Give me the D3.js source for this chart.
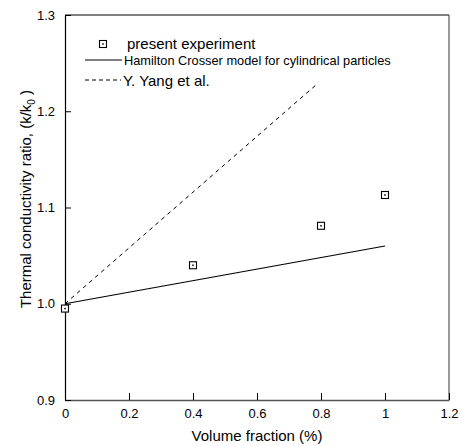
<!DOCTYPE html>
<html>
<head>
<meta charset="utf-8">
<script src="https://cdn.jsdelivr.net/npm/d3@7"></script>
<style>
  body { margin: 0; background: #fff; }
  text { font-family: "Liberation Sans", Arial, sans-serif; fill: #000; }
</style>
</head>
<body>
<script>
// values
var fractions = [0, 0.4, 0.8, 1.0];
var measured = [0.995, 1.04, 1.081, 1.113];

var hcX = [0, 1.0];
var hcY = [1.0, 1.06];

var yangX = [0, 0.79];
var yangY = [1.0, 1.229];

var xTicks = [0, 0.2, 0.4, 0.6, 0.8, 1, 1.2];
var yTicks = [0.9, 1.0, 1.1, 1.2, 1.3];

var W = 464, H = 446;
var plotL = 65, plotR = 449, plotT = 15, plotB = 400;

var x = d3.scaleLinear().domain([0, 1.2]).range([plotL, plotR]);
var y = d3.scaleLinear().domain([0.9, 1.3]).range([plotB, plotT]);

var svg = d3.select('body').append('svg')
    .attr('width', W)
    .attr('height', H);

// frame
svg.append('line').attr('x1', plotL).attr('x2', plotR).attr('y1', plotT).attr('y2', plotT)
  .style('stroke', '#000').style('stroke-width', 1.2);
svg.append('line').attr('x1', plotR).attr('x2', plotR).attr('y1', plotT).attr('y2', plotB)
  .style('stroke', '#555').style('stroke-width', 1.2);

// x axis, ticks pointing in
var xAxis = d3.axisBottom(x).tickValues(xTicks).tickSizeInner(-7).tickSizeOuter(0).tickPadding(9)
    .tickFormat(function(d) { return d === 0 || d === 1 ? d3.format('d')(d) : d3.format('.1f')(d); });
var gx = svg.append('g')
  .attr('transform', 'translate(0,' + plotB + ')')
  .call(xAxis);
gx.select('.domain').style('stroke', '#555').style('stroke-width', 1.6);
gx.selectAll('.tick line').style('stroke', '#000');
gx.selectAll('text').style('font-size', '13px').attr('fill', '#000');

var yAxis = d3.axisLeft(y).tickValues(yTicks).tickSizeInner(-6).tickSizeOuter(0).tickPadding(10)
    .tickFormat(d3.format('.1f'));
var gy = svg.append('g')
  .attr('transform', 'translate(' + plotL + ',0)')
  .call(yAxis);
gy.select('.domain').style('stroke', '#000').style('stroke-width', 1.2);
gy.selectAll('text').style('font-size', '13px').attr('fill', '#000');

// axis titles
svg.append('text')
  .attr('x', (plotL + plotR) / 2)
  .attr('y', 441)
  .attr('text-anchor', 'middle')
  .style('font-size', '15px')
  .text('Volume fraction (%)');

var yt = svg.append('text')
  .attr('transform', 'translate(31,' + 199 + ') rotate(-90)')
  .attr('text-anchor', 'middle')
  .style('font-size', '15px');
yt.append('tspan').text('Thermal conductivity ratio, (k/k');
yt.append('tspan').attr('dy', 4).style('font-size', '10px').text('0');
yt.append('tspan').attr('dy', -4).text(' )');

// model lines
var line = d3.line()
  .x(function(d) { return x(d[0]); })
  .y(function(d) { return y(d[1]); });

svg.append('path')
  .datum(d3.zip(hcX, hcY))
  .attr('d', line)
  .style('fill', 'none')
  .style('stroke', '#000')
  .style('stroke-width', 1.2);

svg.append('path')
  .datum(d3.zip(yangX, yangY))
  .attr('d', line)
  .style('fill', 'none')
  .style('stroke', '#000')
  .style('stroke-width', 1)
  .style('stroke-dasharray', '4,4');

// markers
var drawMarker = function(g, cx, cy) {
  g.append('rect')
    .attr('x', cx - 3.5).attr('y', cy - 3.5)
    .attr('width', 7).attr('height', 7)
    .style('fill', '#fff').style('stroke', '#000').style('stroke-width', 1.1);
  g.append('rect')
    .attr('x', cx - 0.75).attr('y', cy - 0.75)
    .attr('width', 1.5).attr('height', 1.5)
    .style('fill', '#000');
}

var pts = svg.append('g');
fractions.forEach(function(f, i) {
  drawMarker(pts, x(f), y(measured[i]));
});

// legend
var lg = svg.append('g');
drawMarker(lg, 103, 44);
lg.append('text').attr('x', 127).attr('y', 49).style('font-size', '15px').text('present experiment');
lg.append('line').attr('x1', 85).attr('x2', 122).attr('y1', 60).attr('y2', 60)
  .style('stroke', '#000').style('stroke-width', 1);
lg.append('text').attr('x', 124).attr('y', 65).style('font-size', '12.8px')
  .text('Hamilton Crosser model for cylindrical particles');
lg.append('line').attr('x1', 85).attr('x2', 121).attr('y1', 80).attr('y2', 80)
  .style('stroke', '#000').style('stroke-width', 1).style('stroke-dasharray', '4,3');
lg.append('text').attr('x', 123).attr('y', 86).style('font-size', '15px').text('Y. Yang et al.');
</script>
</body>
</html>
